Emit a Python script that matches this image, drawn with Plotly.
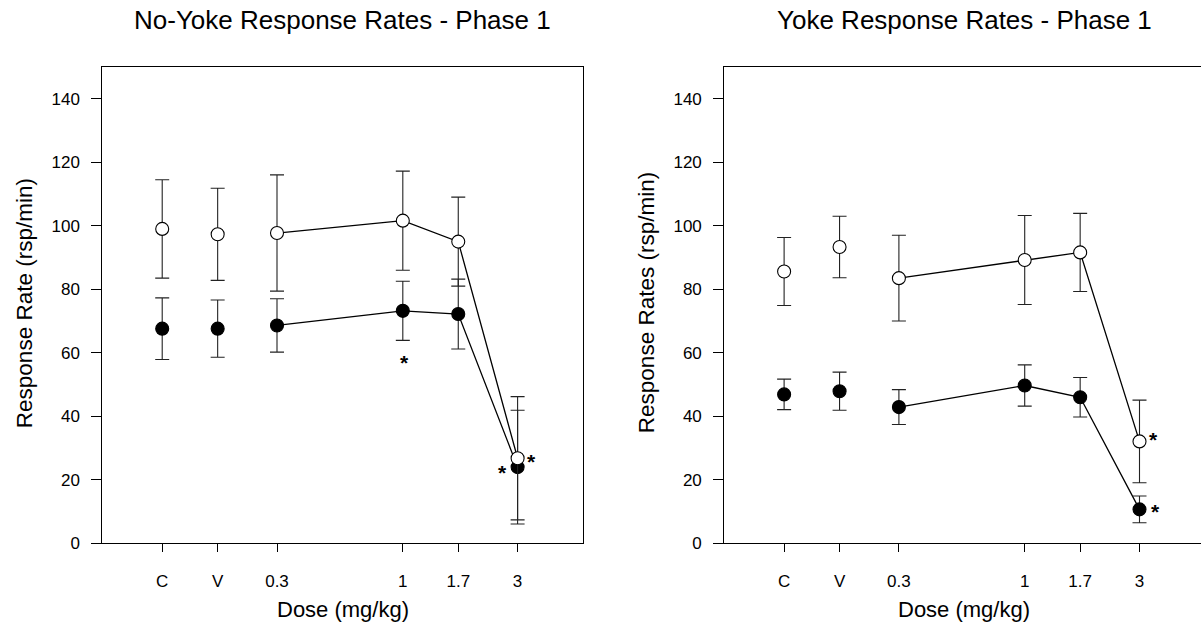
import math
import plotly.graph_objects as go

# Dose conditions (C = control, V = vehicle) and their positions on the log dose axis
dose_labels = ["C", "V", "0.3", "1", "1.7", "3"]
dose_x = [0.1, 0.17, 0.3, 1, 1.7, 3]

# Phase 1, no-yoke condition: response rates (rsp/min) and SEM
noyoke_open = [99.0, 97.3, 97.7, 101.6, 95.0, 26.8]
noyoke_open_err = [15.5, 14.5, 18.3, 15.6, 14.0, 19.4]
noyoke_filled = [67.6, 67.6, 68.6, 73.2, 72.2, 24.0]
noyoke_filled_err = [9.7, 9.0, 8.4, 9.3, 11.0, 17.9]

# Phase 1, yoke condition
yoke_open = [85.6, 93.3, 83.5, 89.2, 91.6, 32.1]
yoke_open_err = [10.7, 9.7, 13.5, 14.0, 12.3, 13.0]
yoke_filled = [46.9, 47.9, 42.9, 49.7, 46.0, 10.7]
yoke_filled_err = [4.8, 6.0, 5.5, 6.5, 6.2, 4.2]

y_ticks = [0, 20, 40, 60, 80, 100, 120, 140]

FONT = "Liberation Sans, Arial, sans-serif"
W, H = 1201, 638

fig = go.Figure()


def add_series(values, errors, filled, xa, ya):
    # connecting line over the drug doses only (C and V stand alone)
    fig.add_trace(go.Scatter(
        x=dose_x[2:], y=values[2:], mode="lines",
        line=dict(color="black", width=1.3),
        xaxis=xa, yaxis=ya, showlegend=False, hoverinfo="skip"))
    fig.add_trace(go.Scatter(
        x=dose_x, y=values, mode="markers",
        marker=dict(size=13, color="black" if filled else "white",
                    line=dict(color="black", width=1.1)),
        error_y=dict(type="data", array=errors, visible=True,
                     color="#222222", thickness=1.1, width=7),
        xaxis=xa, yaxis=ya, showlegend=False))


add_series(noyoke_filled, noyoke_filled_err, True, "x", "y")
add_series(noyoke_open, noyoke_open_err, False, "x", "y")
add_series(yoke_filled, yoke_filled_err, True, "x2", "y2")
add_series(yoke_open, yoke_open_err, False, "x2", "y2")

xlog0 = -1.249
px_per_decade = 240.6
left_dom = [102.3 / W, 582.7 / W]
right_dom = [724.2 / W, 1.0]
right_width = (right_dom[1] - right_dom[0]) * W
ydom = [(H - 552) / H, (H - 68) / H]

x_common = dict(
    type="log", tickvals=dose_x, ticktext=dose_labels,
    showline=True, linecolor="black", linewidth=1, mirror=True,
    ticks="outside", ticklen=8, tickcolor="black", tickwidth=1,
    showgrid=False, zeroline=False, ticklabelstandoff=14,
    tickfont=dict(family=FONT, size=17, color="black"),
)
y_common = dict(
    range=[0, 150], tickvals=y_ticks,
    showline=True, linecolor="black", linewidth=1,
    ticks="outside", ticklen=10, tickcolor="black", tickwidth=1,
    showgrid=False, zeroline=False, ticklabelstandoff=8,
    tickfont=dict(family=FONT, size=17, color="black"),
)

fig.update_layout(
    width=W, height=H,
    margin=dict(l=0, r=0, t=0, b=0),
    paper_bgcolor="white", plot_bgcolor="white",
    font=dict(family=FONT, color="black"),
    xaxis=dict(x_common, domain=left_dom,
               range=[xlog0, xlog0 + (left_dom[1] - left_dom[0]) * W / px_per_decade],
               anchor="y"),
    yaxis=dict(y_common, domain=ydom, anchor="x", mirror=True),
    xaxis2=dict(x_common, domain=right_dom,
                range=[xlog0, xlog0 + right_width / px_per_decade],
                anchor="y2"),
    yaxis2=dict(y_common, domain=ydom, anchor="x2", mirror=False),
)

annotations = []
# panel titles
for text, cx in [("No-Yoke Response Rates - Phase 1", 342.5),
                 ("Yoke Response Rates - Phase 1", 964.0)]:
    annotations.append(dict(text=text, x=cx / W, y=1 - 20 / H, xref="paper", yref="paper",
                            showarrow=False, xanchor="center", yanchor="middle",
                            font=dict(family=FONT, size=26, color="black")))
# x-axis titles
for cx in [342.5, 964.0]:
    annotations.append(dict(text="Dose (mg/kg)", x=cx / W, y=1 - 619 / H,
                            xref="paper", yref="paper", showarrow=False,
                            xanchor="center", yanchor="middle",
                            font=dict(family=FONT, size=22, color="black")))
# y-axis titles
for text, cx in [("Response Rate (rsp/min)", 24), ("Response Rates (rsp/min)", 646)]:
    annotations.append(dict(text=text, x=cx / W, y=1 - 308 / H, xref="paper", yref="paper",
                            showarrow=False, textangle=-90, xanchor="center",
                            yanchor="middle",
                            font=dict(family=FONT, size=22.5, color="black")))

# significance markers
stars = [
    ("x", "y", 1, 58.5, 2),
    ("x", "y", 3, 23.8, -15),
    ("x", "y", 3, 27.5, 14),
    ("x2", "y2", 3, 34.2, 14),
    ("x2", "y2", 3, 11.5, 16),
]
for xr, yr, dx, yv, shift in stars:
    annotations.append(dict(text="<b>*</b>", x=math.log10(dx), y=yv, xref=xr, yref=yr,
                            showarrow=False, xshift=shift, yshift=-5,
                            xanchor="center", yanchor="middle",
                            font=dict(family=FONT, size=21, color="black")))

fig.update_layout(annotations=annotations)

fig.write_html("out.html")
